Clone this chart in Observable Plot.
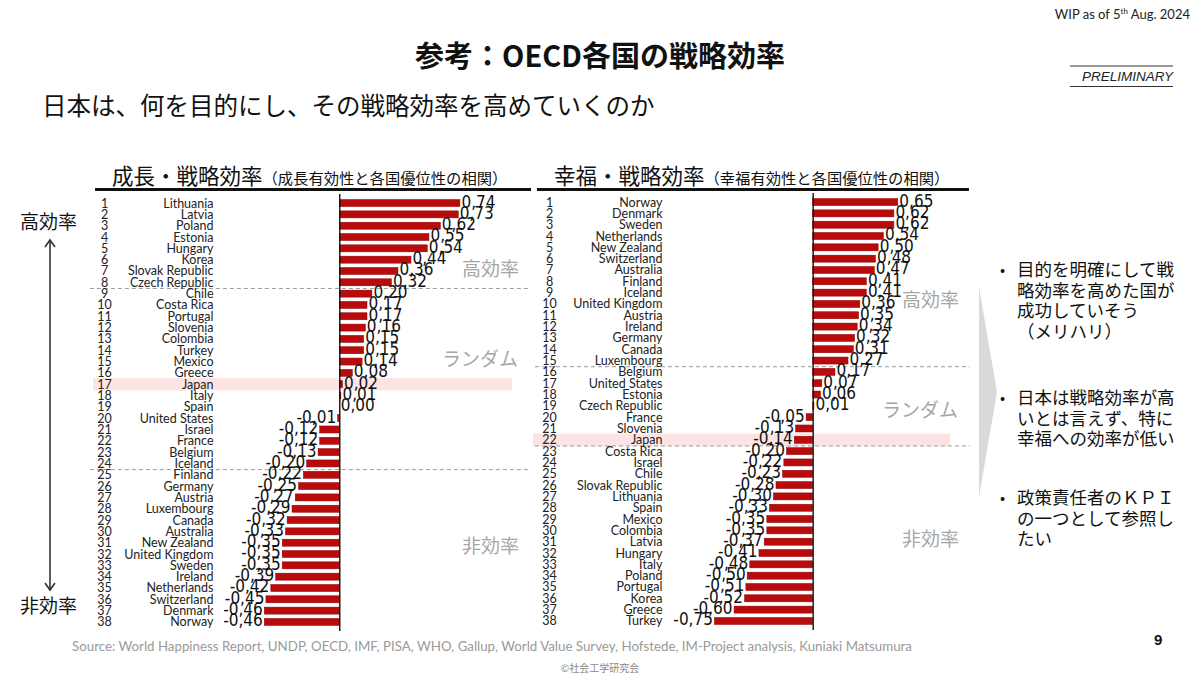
<!DOCTYPE html>
<html><head><meta charset="utf-8">
<script src="https://cdn.jsdelivr.net/npm/d3@7"></script>
<script src="https://cdn.jsdelivr.net/npm/@observablehq/plot@0.6"></script>
<style>
  html,body{margin:0;padding:0;background:#fff;}
  #page{position:relative;width:1200px;height:675px;overflow:hidden;font-family:'Noto Sans CJK JP',sans-serif;color:#111;}
  .abs{position:absolute;white-space:nowrap;}
  .zone{position:absolute;color:#a6a6a6;font-size:19px;font-family:'Noto Sans CJK JP',sans-serif;line-height:22px;}
  .bullet{position:absolute;left:1000px;font-size:17.5px;line-height:20.6px;color:#111;}
  .bullet .dot{position:absolute;left:0;top:0;font-size:15px;}
  .bullet .txt{position:absolute;left:17px;top:0;white-space:nowrap;}
  svg.plot{overflow:visible;}
</style>
</head><body>
<div id="page">
  <div class="abs" style="right:10px;top:6px;font-family:'Liberation Sans Narrow','Lato',sans-serif;font-size:13px;color:#222;">WIP as of 5<sup style="font-size:8px">th</sup> Aug. 2024</div>
  <div class="abs" style="left:0;width:1200px;text-align:center;top:34px;font-size:29px;font-weight:700;line-height:40px;">参考：OECD各国の戦略効率</div>
  <div class="abs" style="left:1070px;top:65px;width:103px;border-top:2px solid #999;border-bottom:1.5px solid #333;font-family:'Liberation Sans','Lato',sans-serif;font-style:italic;font-size:13.5px;line-height:19px;text-align:right;color:#222;">PRELIMINARY</div>
  <div class="abs" style="left:42px;top:90px;font-size:24.5px;line-height:30px;">日本は、何を目的にし、その戦略効率を高めていくのか</div>

  <div class="abs" style="left:112px;top:160px;font-size:21.5px;line-height:30px;">成長・戦略効率<span style="font-size:15.3px;">（成長有効性と各国優位性の相関）</span></div>
  <div class="abs" style="left:554px;top:160px;font-size:21.5px;line-height:30px;">幸福・戦略効率<span style="font-size:15.3px;">（幸福有効性と各国優位性の相関）</span></div>
  <div class="abs" style="left:95px;top:188px;width:436px;height:3px;background:#111;"></div>
  <div class="abs" style="left:537px;top:188px;width:432px;height:3px;background:#111;"></div>

  <div class="abs" style="left:20px;top:209px;font-size:19px;line-height:24px;">高効率</div>
  <div class="abs" style="left:20px;top:593px;font-size:19px;line-height:24px;">非効率</div>
  <svg class="abs" style="left:0;top:0;" width="120" height="675">
    <line x1="50" y1="240" x2="50" y2="590" stroke="#333" stroke-width="1.6"/>
    <polyline points="45,247 50,240 55,247" fill="none" stroke="#333" stroke-width="1.6"/>
    <polyline points="45,583 50,590 55,583" fill="none" stroke="#333" stroke-width="1.6"/>
  </svg>

  <div id="chartL" class="abs" style="left:90px;top:192px;"></div>
  <div id="chartR" class="abs" style="left:533px;top:191px;"></div>

  <div class="zone" style="left:462px;top:257px;">高効率</div>
  <div class="zone" style="left:442px;top:347px;">ランダム</div>
  <div class="zone" style="left:462px;top:534px;">非効率</div>
  <div class="zone" style="left:902px;top:288px;">高効率</div>
  <div class="zone" style="left:882px;top:398px;">ランダム</div>
  <div class="zone" style="left:902px;top:527px;">非効率</div>

  <svg class="abs" style="left:0;top:0;" width="1200" height="675">
    <polygon points="979,287 997,392 979,497" fill="#d9d9d9"/>
  </svg>

  <div class="bullet" style="top:259px;"><span class="dot">•</span><div class="txt">目的を明確にして戦<br>略効率を高めた国が<br>成功していそう<br>（メリハリ）</div></div>
  <div class="bullet" style="top:387px;"><span class="dot">•</span><div class="txt">日本は戦略効率が高<br>いとは言えず、特に<br>幸福への効率が低い</div></div>
  <div class="bullet" style="top:487px;"><span class="dot">•</span><div class="txt">政策責任者のＫＰＩ<br>の一つとして参照し<br>たい</div></div>

  <div class="abs" style="left:72px;top:638px;font-family:'Lato',sans-serif;font-size:13.3px;color:#9a9a9a;">Source: World Happiness Report, UNDP, OECD, IMF, PISA, WHO, Gallup, World Value Survey, Hofstede, IM-Project analysis, Kuniaki Matsumura</div>
  <div class="abs" style="left:0;width:1200px;text-align:center;top:660px;font-size:10px;color:#888;">©社会工学研究会</div>
  <div class="abs" style="left:1154px;top:631px;font-family:'Liberation Sans',sans-serif;font-weight:700;font-size:15px;">9</div>
</div>
<script>
// ---- Data ----
const growthCountries = ["Lithuania","Latvia","Poland","Estonia","Hungary","Korea","Slovak Republic","Czech Republic","Chile","Costa Rica","Portugal","Slovenia","Colombia","Turkey","Mexico","Greece","Japan","Italy","Spain","United States","Israel","France","Belgium","Iceland","Finland","Germany","Austria","Luxembourg","Canada","Australia","New Zealand","United Kingdom","Sweden","Ireland","Netherlands","Switzerland","Denmark","Norway"];
const growthValues = [0.74,0.73,0.62,0.55,0.54,0.44,0.36,0.32,0.20,0.17,0.17,0.16,0.15,0.15,0.14,0.08,0.02,0.01,0.00,-0.01,-0.12,-0.12,-0.13,-0.20,-0.22,-0.25,-0.27,-0.29,-0.32,-0.33,-0.35,-0.35,-0.35,-0.39,-0.42,-0.45,-0.46,-0.46];
const happinessCountries = ["Norway","Denmark","Sweden","Netherlands","New Zealand","Switzerland","Australia","Finland","Iceland","United Kingdom","Austria","Ireland","Germany","Canada","Luxembourg","Belgium","United States","Estonia","Czech Republic","France","Slovenia","Japan","Costa Rica","Israel","Chile","Slovak Republic","Lithuania","Spain","Mexico","Colombia","Latvia","Hungary","Italy","Poland","Portugal","Korea","Greece","Turkey"];
const happinessValues = [0.65,0.62,0.62,0.54,0.50,0.48,0.47,0.41,0.41,0.36,0.35,0.34,0.32,0.31,0.27,0.17,0.07,0.06,0.01,-0.05,-0.13,-0.14,-0.20,-0.22,-0.23,-0.28,-0.30,-0.33,-0.35,-0.35,-0.37,-0.41,-0.48,-0.50,-0.51,-0.52,-0.60,-0.75];
const growthBreaks = [8.5, 24.5];      // 高効率 | ランダム | 非効率
const happinessBreaks = [15.5, 22.5];
const highlightCountry = "Japan";

const numFont = "'Liberation Sans Narrow','DejaVu Sans Condensed','Roboto Condensed',sans-serif";
const nameFont = "Lato, 'Open Sans', sans-serif";
const fmt = v => (v < 0 ? "-" : "") + d3.format(".2f")(Math.abs(v)).replace(".", ",");

function makeChart(countries, values, breaks, opt) {
  const data = countries.map((name, i) => ({rank: i + 1, name, value: values[i]}));
  const pos = data.filter(d => d.value >= 0);
  const neg = data.filter(d => d.value < 0);
  const hl = data.filter(d => d.name === highlightCountry);
  return Plot.plot({
    width: opt.width,
    height: 441,
    marginLeft: opt.marginLeft,
    marginRight: 0,
    marginTop: 2,
    marginBottom: 2,
    style: {fontFamily: nameFont, background: "transparent", overflow: "visible"},
    x: {domain: opt.xDomain, axis: null},
    y: {domain: [0.2, 38.8], reverse: true, axis: null},
    marks: [
      Plot.rect(hl, {x1: () => opt.band[0], x2: () => opt.band[1], y1: d => d.rank - 0.55, y2: d => d.rank + 0.55, fill: "#fde3e3"}),
      Plot.ruleY(breaks, {y: d => d, x1: () => opt.rule[0], x2: () => opt.rule[1], stroke: "#9a9a9a", strokeWidth: 1, strokeDasharray: "4,3"}),
      Plot.rect(data, {x1: () => 0, x2: "value", y1: d => d.rank - 0.31, y2: d => d.rank + 0.31, fill: "#b90b0b", stroke: "#8f0000", strokeWidth: 0.5}),
      Plot.ruleX([0], {stroke: "#111", strokeWidth: 1.4}),
      Plot.text(data, {y: "rank", text: "name", frameAnchor: "left", textAnchor: "end", dx: -5, dy: 0, fontSize: 12.5, fill: "#222"}),
      Plot.text(data, {y: "rank", text: d => String(d.rank), frameAnchor: "left", textAnchor: "middle", dx: opt.rankDx, dy: 0, fontSize: 12.5, fill: "#222"}),
      Plot.text(pos, {x: "value", y: "rank", text: d => fmt(d.value), textAnchor: "start", dx: 1, dy: -1.5, fontSize: 17, fontFamily: numFont, fill: "#111"}),
      Plot.text(neg, {x: "value", y: "rank", text: d => fmt(d.value), textAnchor: "end", dx: -2, dy: -1.5, fontSize: 17, fontFamily: numFont, fill: "#111"})
    ]
  });
}

document.getElementById("chartL").appendChild(makeChart(growthCountries, growthValues, growthBreaks, {
  width: 440, marginLeft: 128, xDomain: [-0.744, 1.170], band: [-1.51, 1.06], rule: [-1.53, 1.16], rankDx: -114
}));
document.getElementById("chartR").appendChild(makeChart(happinessCountries, happinessValues, happinessBreaks, {
  width: 437, marginLeft: 134, xDomain: [-1.112, 1.201], band: [-2.135, 1.048], rule: [-2.12, 1.2], rankDx: -118
}));
</script>
</body></html>
